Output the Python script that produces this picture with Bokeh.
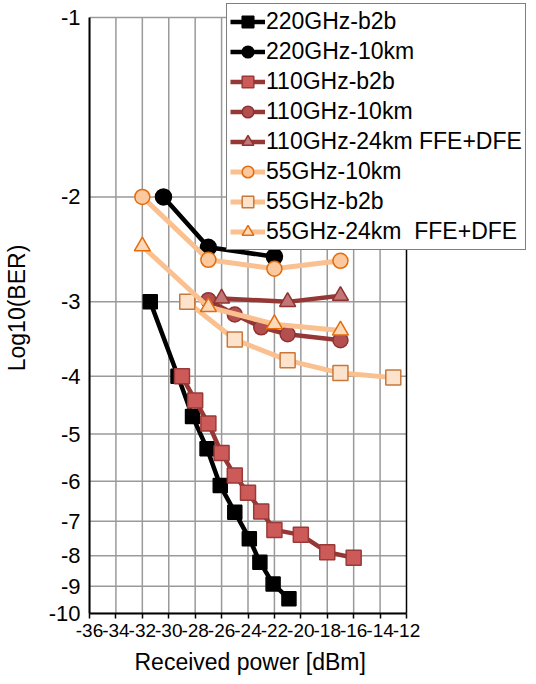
from bokeh.plotting import figure
from bokeh.models import Range1d, FixedTicker, Legend, LegendItem, Title
from bokeh.embed import file_html
from bokeh.resources import INLINE

# ---- data (received power in dBm, log10(BER)) ----
x_ticks = list(range(-36, -11, 2))
x_tick_labels = [str(v) for v in x_ticks]
y_ticks = [1, 2, 3, 4, 5, 6, 7, 8, 9, 10]
y_tick_labels = ["-1", "-2", "-3", "-4", "-5", "-6", "-7", "-8", "-9", "-10"]

ghz220_b2b_x = [-31.4, -29.3, -28.2, -27.1, -26.1, -25.0, -23.9, -23.1, -22.1, -20.9]
ghz220_b2b_y = [-3.00, -4.00, -4.67, -5.29, -6.10, -6.76, -7.49, -8.20, -8.92, -9.45]

ghz220_10km_x = [-30.4, -27.0, -22.0]
ghz220_10km_y = [-2.00, -2.43, -2.52]

ghz110_b2b_x = [-29, -28, -27, -26, -25, -24, -23, -22, -20, -18, -16]
ghz110_b2b_y = [-4.00, -4.39, -4.80, -5.38, -5.87, -6.27, -6.74, -7.24, -7.38, -7.89, -8.06]

ghz110_10km_x = [-27, -25, -23, -21, -17]
ghz110_10km_y = [-2.98, -3.15, -3.31, -3.40, -3.48]

ghz110_24km_x = [-26, -21, -17]
ghz110_24km_y = [-2.96, -3.00, -2.93]

ghz55_10km_x = [-32, -27, -22, -17]
ghz55_10km_y = [-2.00, -2.55, -2.64, -2.56]

ghz55_b2b_x = [-28.6, -25, -21, -17, -13]
ghz55_b2b_y = [-3.00, -3.47, -3.76, -3.95, -4.02]

ghz55_24km_x = [-32, -27, -22, -17]
ghz55_24km_y = [-2.42, -3.06, -3.27, -3.35]

x_label = "Received power [dBm]"
y_label = "Log10(BER)"

FONT = "Liberation Sans"

# ---- layout geometry (pixels) ----
W, H = 536, 684
AX_LEFT, AX_RIGHT = 89, 406      # pixel of x=-36 and x=-12
AX_TOP, AX_BOTTOM = 17, 613      # pixel of |y|=1 and |y|=10
FRAME_TOP, FRAME_RIGHT = 2, 536  # frame extended so the legend is not clipped

x_min, x_max = x_ticks[0], x_ticks[-1]
px_per_x = (AX_RIGHT - AX_LEFT) / (x_max - x_min)
x_end = x_max + (FRAME_RIGHT - AX_RIGHT) / px_per_x
px_per_dec = (AX_BOTTOM - AX_TOP)
y_top = 10 ** (-(AX_TOP - FRAME_TOP) / px_per_dec)

p = figure(width=W, height=H,
           x_range=Range1d(x_min, x_end), y_range=Range1d(10, y_top),
           y_axis_type="log",
           output_backend="svg", toolbar_location=None,
           min_border_left=AX_LEFT, min_border_right=W - FRAME_RIGHT,
           min_border_top=FRAME_TOP, min_border_bottom=H - AX_BOTTOM)

p.outline_line_color = None
p.background_fill_color = "white"
p.xgrid.visible = False
p.ygrid.visible = False

# axes
p.xaxis.ticker = FixedTicker(ticks=x_ticks)
p.xaxis.major_label_overrides = {t: l for t, l in zip(x_ticks, x_tick_labels)}
p.xaxis.bounds = (x_min, x_max)
p.yaxis.ticker = FixedTicker(ticks=y_ticks)
p.yaxis.major_label_overrides = {t: l for t, l in zip(y_ticks, y_tick_labels)}
p.yaxis.bounds = (y_ticks[0], y_ticks[-1])

for ax in (p.xaxis, p.yaxis):
    ax.axis_line_color = "black"
    ax.axis_line_width = 2
    ax.minor_tick_line_color = None
    ax.major_label_text_font = FONT
    ax.major_label_text_color = "black"
    ax.axis_label_text_font = FONT
    ax.axis_label_text_font_style = "normal"
    ax.axis_label_text_color = "black"

p.xaxis.major_tick_out = 5
p.xaxis.major_tick_in = 0
p.xaxis.major_tick_line_color = "black"
p.xaxis.major_tick_line_width = 1.5
p.xaxis.major_label_standoff = 5
p.xaxis.major_label_text_font_size = "19px"

p.yaxis.major_tick_out = 0
p.yaxis.major_tick_in = 0
p.yaxis.major_label_standoff = 9
p.yaxis.major_label_text_font_size = "22px"
p.yaxis.axis_label = y_label
p.yaxis.axis_label_text_font_size = "23px"
p.yaxis.axis_label_standoff = 16

# x-axis title centred under the plot box (not under the extended frame)
xt = Title(text=x_label, align="left", offset=45, text_font=FONT,
           text_font_size="23px", text_font_style="normal", text_color="black",
           standoff=14)
p.add_layout(xt, "below")

# grid lines drawn only inside the plot box
n_x, n_y = len(x_ticks), len(y_ticks)
p.segment(x0=x_ticks[:-1], y0=[y_ticks[0]] * (n_x - 1), x1=x_ticks[:-1], y1=[y_ticks[-1]] * (n_x - 1),
          line_color="#9a9a9a", line_width=1.5)
p.segment(x0=[x_min] * n_y, y0=y_ticks, x1=[x_max] * n_y, y1=y_ticks,
          line_color="#9a9a9a", line_width=1.5)
p.segment(x0=[x_max], y0=[y_ticks[0]], x1=[x_max], y1=[y_ticks[-1]],
          line_color="black", line_width=1.5)

series = [
    ("220GHz-b2b", ghz220_b2b_x, ghz220_b2b_y, "black", 4.5, "square", 14, "black", "black"),
    ("220GHz-10km", ghz220_10km_x, ghz220_10km_y, "black", 4.5, "circle", 16, "black", "black"),
    ("110GHz-b2b", ghz110_b2b_x, ghz110_b2b_y, "#953735", 4.5, "square", 15, "#cc5a58", "#9a3a38"),
    ("110GHz-10km", ghz110_10km_x, ghz110_10km_y, "#953735", 4.5, "circle", 15, "#b34f4e", "#8e3232"),
    ("110GHz-24km FFE+DFE", ghz110_24km_x, ghz110_24km_y, "#953735", 4.5, "triangle", 16, "#c27676", "#8e3232"),
    ("55GHz-10km", ghz55_10km_x, ghz55_10km_y, "#fac090", 5, "circle", 15, "#fcc89e", "#e46c0a"),
    ("55GHz-b2b", ghz55_b2b_x, ghz55_b2b_y, "#fac090", 5, "square", 15, "#fde2cc", "#c8783a"),
    ("55GHz-24km  FFE+DFE", ghz55_24km_x, ghz55_24km_y, "#fac090", 5, "triangle", 16, "#fdd9bb", "#e46c0a"),
]

items = []
for name, xs, ys, lc, lw, marker, size, fill, edge in series:
    mag = [-v for v in ys]
    r_line = p.line(xs, mag, line_color=lc, line_width=lw)
    r_mark = p.scatter(xs, mag, marker=marker, size=size, fill_color=fill,
                       line_color=edge, line_width=1.5)
    items.append(LegendItem(label=name, renderers=[r_line, r_mark]))

legend = Legend(items=items, location=(226 - AX_LEFT, AX_BOTTOM - 250))
legend.label_text_font = FONT
legend.label_text_font_size = "23px"
legend.label_text_color = "black"
legend.glyph_width = 35
legend.glyph_height = 29
legend.label_height = 29
legend.label_standoff = 1
legend.spacing = 1
legend.padding = 3
legend.margin = 0
legend.border_line_color = "black"
legend.border_line_width = 1.5
legend.background_fill_color = "white"
legend.background_fill_alpha = 1.0
p.add_layout(legend, "center")

open("out.html", "w").write(file_html(p, INLINE))
